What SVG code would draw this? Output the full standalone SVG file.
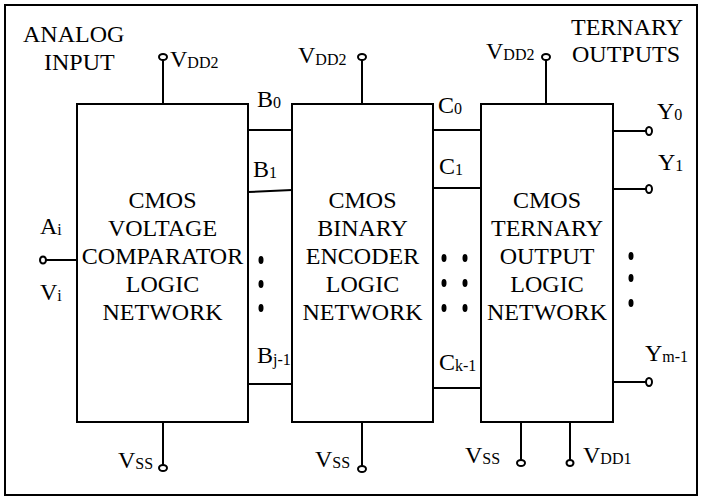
<svg xmlns="http://www.w3.org/2000/svg" width="702" height="497" viewBox="0 0 702 497">
<style>
text{font-family:"Liberation Serif","Times New Roman",serif;fill:#000;font-size:24px}
.s{font-size:16px}
.c{text-anchor:middle}
.ln{stroke:#000;stroke-width:2;fill:none}
.box{stroke:#000;stroke-width:2;fill:#fff}
.term{stroke:#000;stroke-width:2;fill:#fff}
.dot{fill:#000}
</style>
<rect x="5" y="5" width="692" height="490" fill="#fff" stroke="#000" stroke-width="2"/>
<g id="connectors">
<line class="ln" x1="163" y1="60" x2="163" y2="104"/>
<line class="ln" x1="163" y1="422" x2="163" y2="465"/>
<line class="ln" x1="362" y1="60" x2="362" y2="104"/>
<line class="ln" x1="362" y1="422" x2="362" y2="466"/>
<line class="ln" x1="546" y1="60" x2="546" y2="104"/>
<line class="ln" x1="521" y1="422" x2="521" y2="460"/>
<line class="ln" x1="570" y1="422" x2="570" y2="460"/>
<line class="ln" x1="46" y1="260" x2="77" y2="260"/>
<line class="ln" x1="248" y1="130" x2="292" y2="130"/>
<line class="ln" x1="248" y1="192" x2="292" y2="190"/>
<line class="ln" x1="248" y1="384" x2="292" y2="384"/>
<line class="ln" x1="433" y1="130" x2="481" y2="130"/>
<line class="ln" x1="433" y1="188" x2="481" y2="188"/>
<line class="ln" x1="433" y1="388" x2="481" y2="388"/>
<line class="ln" x1="613" y1="131" x2="646" y2="131"/>
<line class="ln" x1="613" y1="189" x2="646" y2="189"/>
<line class="ln" x1="613" y1="382" x2="646" y2="382"/>
<ellipse class="term" cx="163" cy="57" rx="4" ry="3"/>
<ellipse class="term" cx="163" cy="468" rx="4" ry="3"/>
<ellipse class="term" cx="362" cy="57" rx="4" ry="3"/>
<ellipse class="term" cx="362" cy="469" rx="4" ry="3"/>
<ellipse class="term" cx="546" cy="57" rx="4" ry="3"/>
<ellipse class="term" cx="521" cy="463" rx="4" ry="3"/>
<ellipse class="term" cx="570" cy="463" rx="3.5" ry="3"/>
<ellipse class="term" cx="43" cy="260" rx="3" ry="3.5"/>
<ellipse class="term" cx="649" cy="131" rx="3" ry="4"/>
<ellipse class="term" cx="649" cy="189" rx="3" ry="4"/>
<ellipse class="term" cx="649" cy="382" rx="3" ry="4"/>
</g>
<g id="comparator">
<rect class="box" x="77" y="104" width="171" height="318"/>
<text class="c" x="162.5" y="208">CMOS</text>
<text class="c" x="162.5" y="236">VOLTAGE</text>
<text class="c" x="162.5" y="264">COMPARATOR</text>
<text class="c" x="162.5" y="292">LOGIC</text>
<text class="c" x="162.5" y="320">NETWORK</text>
</g>
<g id="encoder">
<rect class="box" x="292" y="104" width="141" height="318"/>
<text class="c" x="362.5" y="208">CMOS</text>
<text class="c" x="362.5" y="236">BINARY</text>
<text class="c" x="362.5" y="264">ENCODER</text>
<text class="c" x="362.5" y="292">LOGIC</text>
<text class="c" x="362.5" y="320">NETWORK</text>
</g>
<g id="ternary">
<rect class="box" x="481" y="104" width="132" height="318"/>
<text class="c" x="547" y="208">CMOS</text>
<text class="c" x="547" y="236">TERNARY</text>
<text class="c" x="547" y="264">OUTPUT</text>
<text class="c" x="547" y="292">LOGIC</text>
<text class="c" x="547" y="320">NETWORK</text>
</g>
<g id="labels">
<text x="23" y="41.5">ANALOG</text>
<text x="44" y="70">INPUT</text>
<text x="571" y="35">TERNARY</text>
<text x="572" y="61.5">OUTPUTS</text>
<text x="170" y="66.5">V<tspan class="s" dy="1">DD2</tspan></text>
<text x="298" y="63">V<tspan class="s" dy="2">DD2</tspan></text>
<text x="486" y="58.5">V<tspan class="s" dy="1">DD2</tspan></text>
<text x="118" y="468">V<tspan class="s" dy="1">SS</tspan></text>
<text x="315" y="467">V<tspan class="s" dy="1">SS</tspan></text>
<text x="465" y="463">V<tspan class="s" dy="1">SS</tspan></text>
<text x="583" y="463">V<tspan class="s" dy="1">DD1</tspan></text>
<text x="40" y="234">A<tspan class="s" dy="1">i</tspan></text>
<text x="40" y="300">V<tspan class="s" dy="1">i</tspan></text>
<text x="257" y="107">B<tspan class="s" dy="1">0</tspan></text>
<text x="253" y="176.5">B<tspan class="s" dy="1">1</tspan></text>
<text x="257" y="363">B<tspan class="s" dy="2">j-1</tspan></text>
<text x="438" y="113">C<tspan class="s" dy="1">0</tspan></text>
<text x="439" y="174">C<tspan class="s" dy="1">1</tspan></text>
<text x="439" y="370">C<tspan class="s" dy="1">k-1</tspan></text>
<text x="657" y="119">Y<tspan class="s" dy="1">0</tspan></text>
<text x="658" y="170">Y<tspan class="s" dy="1">1</tspan></text>
<text x="645" y="361">Y<tspan class="s" dy="1">m-1</tspan></text>
</g>
<g id="dots">
<ellipse class="dot" cx="261" cy="260" rx="2.5" ry="4"/>
<ellipse class="dot" cx="261" cy="284" rx="2.5" ry="4"/>
<ellipse class="dot" cx="261" cy="308" rx="2.5" ry="4"/>
<ellipse class="dot" cx="444" cy="258" rx="2.5" ry="4"/>
<ellipse class="dot" cx="444" cy="283" rx="2.5" ry="4"/>
<ellipse class="dot" cx="444" cy="308" rx="2.5" ry="4"/>
<ellipse class="dot" cx="465" cy="258" rx="2.5" ry="4"/>
<ellipse class="dot" cx="465" cy="283" rx="2.5" ry="4"/>
<ellipse class="dot" cx="465" cy="308" rx="2.5" ry="4"/>
<ellipse class="dot" cx="631" cy="256" rx="2.5" ry="4"/>
<ellipse class="dot" cx="631" cy="278" rx="2.5" ry="4"/>
<ellipse class="dot" cx="631" cy="303" rx="2.5" ry="4"/>
</g>
</svg>
